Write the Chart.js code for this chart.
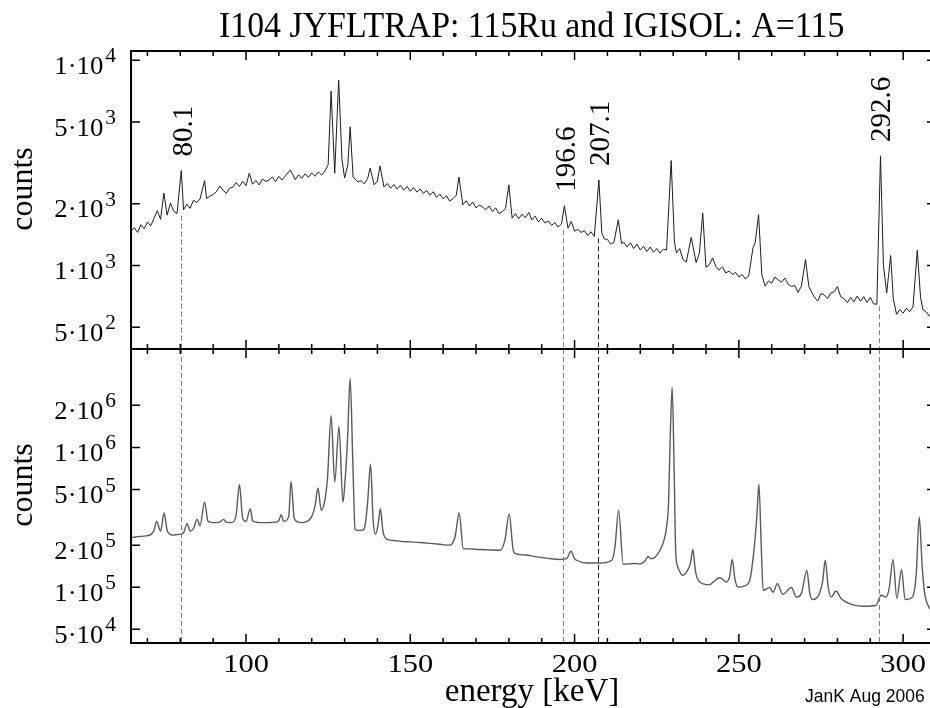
<!DOCTYPE html>
<html>
<head>
<meta charset="utf-8">
<title>I104 JYFLTRAP: 115Ru and IGISOL: A=115</title>
<script src="https://cdn.jsdelivr.net/npm/chart.js@4.4.1/dist/chart.umd.min.js"></script>
<style>
html,body{margin:0;padding:0;background:#fff;overflow:hidden;width:930px;height:708px;}
canvas{position:absolute;left:0;top:0;}
</style>
</head>
<body>
<canvas id="panelArriba" width="936" height="708"></canvas>
<canvas id="panelAbajo" width="936" height="708"></canvas>
<script>

/* ============================= */
/* DATOS */
/* ============================= */

// JYFLTRAP 115Ru (top panel)
const topEnergy = [
65,66,67,68,69,70,71,72,73,74,
75,76,77,78,79,80.3,81,82,83,84,
85,86,87.4,88,89,90,91,92,93,94,
95,96,97,98,99,100,101,102,103,104,
105,106,107,108,109,110,111,112,113.5,115,
116,117,118,119,120,121,122,123,124,125,
125.9,127,128.2,129.2,130,131,131.7,132.6,134,135,
136,137,137.8,139,140,140.8,142,143,144,145,
146,147,148,149,150,151,152,153,154,155,
156,157,158,159,160,161,162,163,164,164.8,
166,167,168,169,170,171,172,173,174,175,
176,177,178,179,180,181,182,183,184,185,
186.1,187,188,189,190,191,192,193,194,195,
196,196.9,198,199,200,201,202,203,204,205,
206,207.4,208.3,209,210,211,212,213.3,214.3,215,
216,217,218,219,220,221,222,223,224,225,
226,227,228,229.4,230.4,231,232,233,234,235.5,
237,238,239,240,241,242,243,244,245,246,
247,248,249,250,251,252,253,254.3,255,256,
257,258,259,260,261,262,263,264,265,266,
267,268,269,270.3,271.3,272,273,274,275,276,
277,278,279,280,281,282,283,284,285,286,
287,288,289,290,291,292,293.1,294,295,296.2,
297,298,299,300,301,302,303,304.3,305.3,306,
307,308,309,310
];

const topCounts = [
1470,1530,1450,1580,1510,1630,1560,1700,1850,1680,
2254,1760,2013,1840,1790,2904,1870,1990,1900,2080,
2030,2110,2594,2120,2180,2220,2290,2440,2330,2250,
2380,2410,2540,2430,2570,2450,2818,2490,2600,2470,
2640,2570,2610,2700,2560,2720,2610,2740,2924,2620,
2770,2660,2800,2690,2830,2720,2860,2760,2880,3100,
7076,2818,8000,3300,2669,3100,4742,2700,2560,2590,
2500,2650,2981,2474,2580,3058,2410,2510,2380,2480,
2360,2460,2330,2430,2300,2400,2280,2360,2250,2320,
2200,2290,2150,2230,2110,2190,2060,2120,2200,2699,
1980,2070,1950,2040,1910,1970,1930,1870,1950,1830,
1910,1790,1830,1900,2474,1700,1790,1690,1780,1710,
1815,1670,1740,1630,1700,1610,1650,1570,1620,1540,
1590,1955,1520,1641,1470,1500,1450,1480,1400,1460,
1387,2612,1441,1350,1340,1270,1300,1672,1280,1300,
1230,1290,1210,1270,1190,1240,1170,1230,1160,1210,
1150,1200,1190,3247,1300,1150,1210,1069,1040,1371,
1033,1150,1803,980,1010,1089,990,950,985,920,
940,905,925,880,905,860,890,1219,1300,1770,
900,795,840,820,880,850,830,870,810,790,
800,740,790,1069,790,750,700,671,730,720,
690,735,745,790,705,690,659,700,665,710,
670,705,660,700,650,648,3420,1000,736,1119,
690,578,610,585,620,595,630,1186,700,610,
595,567,575,550
];

// IGISOL A=115 (bottom panel)
const bottomEnergy = [
65,66,67,68,69,70,71,72,72.8,74,
75.1,76,77,78,79,80,81,82.1,83,84,
85.1,86,87.4,88.4,89,90,91,92,93.2,94,
95,96,97,98,99,100,101.3,102,103,104,
105,106,107,108,109,110,110.7,111.5,113,113.7,
114.7,116,117,118,119,120,121,121.9,122.9,124,
124.8,125.9,127,128.3,129.5,130.2,130.9,131.7,132.5,133.2,
134,135,136,137,137.9,138.7,139.4,140.2,140.9,141.7,
143,145,147,150,153,156,159,162,163.6,164.9,
166.1,168,171,174,177.3,178.8,180.1,181.3,182,185,
188.5,192,195.6,197.6,198.9,200,200.6,203.7,207.8,211.3,
212.3,213.4,214.8,218.1,219.9,221.5,222.4,223.2,224.5,226,
227.3,228,228.6,229.1,229.7,230.3,230.8,231.5,232.9,234.4,
235.3,236,236.8,238.1,241.1,242,244.2,246.2,247.2,248,
248.8,249.7,251.5,253.3,254.8,255.5,256.1,256.8,257.4,259.4,
260.4,261.7,263.4,266,267.5,269,270.7,271.6,272.5,274.5,
275.5,276.3,277.2,278.1,279.6,281.1,283.6,287.7,291.7,293.3,
294.8,295.8,296.9,298.1,299.5,300.6,302.8,304,304.9,305.8,
306.5,307.8,309,310
];

const bottomCounts = [
226000,228000,230000,231000,232000,234000,238000,255000,296000,252000,
339800,255000,239000,236000,238000,240000,245000,285000,252000,262000,
306000,275000,406000,298000,292000,290000,290000,292000,306000,292000,
290000,292000,330000,541000,310000,295000,365000,300000,292000,290000,
290000,290000,290000,291000,292000,300000,330000,296000,320000,571000,
310000,292000,290000,292000,300000,320000,380000,512000,355000,420000,
600000,1690000,565000,1410000,406000,600000,1150000,3130000,800000,260000,
255000,255000,262000,400000,757000,300000,239000,280000,365000,250000,
220000,216000,213000,211000,209000,206000,203000,200000,228000,340000,
189000,188000,186000,185000,184000,217000,334000,185000,174000,170000,
165000,161000,158000,160000,181000,160000,156000,149000,149000,156000,
194000,355000,146000,148000,147000,155000,166000,160000,164000,184000,
220000,270000,400000,1150000,2700000,700000,175000,138000,122000,132000,
150000,186000,130000,109000,104000,108000,117000,109000,120000,158000,
115000,100500,102000,112000,205000,330000,545000,200000,95000,99600,
92000,106000,89000,99600,85000,90000,132000,90000,81700,90000,
110000,156000,100000,85000,94000,83000,76400,73100,74000,87700,
85000,100000,158000,83000,134000,81700,85000,126000,318000,140000,
92400,72300,68000,66000
];

// marked lines
const markerEnergies = [80.1, 196.6, 207.1, 292.6];
const markerLabels = ["80.1", "196.6", "207.1", "292.6"];

// axes
const xMin = 65;
const xMax = 310;
const xTickValues = [70,80,90,100,110,120,130,140,150,160,170,180,190,200,210,220,230,240,250,260,270,280,290,300];
const xLabelValues = [100,150,200,250,300];
const xTickLabels = ["100","150","200","250","300"];

const topMin = 392;
const topMax = 11100;
const topTickValues = [10000,5000,2000,1000,500];
const topTickLabels = ["1·10^4","5·10^3","2·10^3","1·10^3","5·10^2"];

const bottomMin = 39940;
const bottomMax = 5055000;
const bottomTickValues = [2000000,1000000,500000,200000,100000,50000];
const bottomTickLabels = ["2·10^6","1·10^6","5·10^5","2·10^5","1·10^5","5·10^4"];

const title = "I104 JYFLTRAP: 115Ru and IGISOL: A=115";

// estilos de las lineas marcadas
const markerColors = ["#808080", "#808080", "#222222", "#808080"];

const SERIF = '"Liberation Serif", "Times New Roman", serif';


/* ============================= */
/* AYUDAS */
/* ============================= */

function valorLocal(energias, cuentas, centro, ancho, buscarMax){

let mejor = buscarMax ? 0 : Infinity;

energias.forEach((e,i)=>{
if(Math.abs(e-centro) <= ancho){
if(buscarMax) mejor = Math.max(mejor, cuentas[i]);
else mejor = Math.min(mejor, cuentas[i]);
}
});

return mejor;

}

function dibujarPotencia(ctx, texto, xDerecha, y){

const partes = texto.split("^");
const escala = 1.07;

ctx.font = "25px " + SERIF;
const anchoBase = ctx.measureText(partes[0]).width * escala;

ctx.font = "20px " + SERIF;
const anchoExp = ctx.measureText(partes[1]).width * escala;

const x0 = xDerecha - anchoBase - anchoExp - 2;

ctx.save();
ctx.translate(x0, y + 13.5);
ctx.scale(escala, 1);
ctx.font = "25px " + SERIF;
ctx.fillText(partes[0], 0, 0);
ctx.restore();

ctx.save();
ctx.translate(x0 + anchoBase + 2, y + 2);
ctx.scale(escala, 1);
ctx.font = "20px " + SERIF;
ctx.fillText(partes[1], 0, 0);
ctx.restore();

}


/* ============================= */
/* PLUGIN MARCO Y TEXTOS */
/* ============================= */

const marcoPlugin = {

id: "marco",

afterDraw(chart, args, opts){

const ctx = chart.ctx;
const area = chart.chartArea;
const sx = chart.scales.x;
const sy = chart.scales.y;

ctx.save();

/* lineas discontinuas */

markerEnergies.forEach((e,i)=>{

const px = Math.round(sx.getPixelForValue(e)) + 0.5;
let y0 = area.top;

if(opts.panel === "top"){
const base = valorLocal(topEnergy, topCounts, e, 1.5, false);
y0 = sy.getPixelForValue(base) + 2;
}

ctx.setLineDash([5,3]);
ctx.strokeStyle = markerColors[i];
ctx.lineWidth = 1;
ctx.beginPath();
ctx.moveTo(px, y0);
ctx.lineTo(px, area.bottom);
ctx.stroke();

});

ctx.setLineDash([]);

/* marco */

ctx.strokeStyle = "#000";
ctx.lineWidth = 2;
ctx.strokeRect(area.left, area.top, area.right - area.left, area.bottom - area.top);

/* ticks eje x */

ctx.lineWidth = 1.5;

xTickValues.forEach(v=>{

const px = sx.getPixelForValue(v);
const largo = xLabelValues.includes(v) ? 9 : 5;

ctx.beginPath();
ctx.moveTo(px, area.top);
ctx.lineTo(px, area.top + largo);
ctx.moveTo(px, area.bottom);
ctx.lineTo(px, area.bottom - largo);
ctx.stroke();

});

/* ticks eje y + etiquetas */

ctx.fillStyle = "#000";
ctx.textAlign = "left";
ctx.textBaseline = "alphabetic";

opts.tickValues.forEach((v,i)=>{

const py = sy.getPixelForValue(v);

ctx.beginPath();
ctx.moveTo(area.left, py);
ctx.lineTo(area.left + 9, py);
ctx.moveTo(area.right, py);
ctx.lineTo(area.right - 9, py);
ctx.stroke();

dibujarPotencia(ctx, opts.tickLabels[i], 116, py);

});

/* titulo eje y */

ctx.save();
ctx.translate(32, opts.countsY);
ctx.rotate(-Math.PI/2);
ctx.font = "32px " + SERIF;
ctx.textAlign = "center";
ctx.fillText("counts", 0, 0);
ctx.restore();

if(opts.panel === "top"){

/* titulo */

ctx.save();
ctx.translate(531.7, 36.7);
ctx.scale(0.94, 1);
ctx.font = "36px " + SERIF;
ctx.textAlign = "center";
ctx.fillText(title, 0, 0);
ctx.restore();

/* etiquetas de picos */

markerEnergies.forEach((e,i)=>{

const px = sx.getPixelForValue(e);
const pico = valorLocal(topEnergy, topCounts, e, 1, true);
const yInicio = sy.getPixelForValue(pico) - 14;

ctx.save();
ctx.translate(px + 11.5, yInicio);
ctx.rotate(-Math.PI/2);
ctx.font = "29px " + SERIF;
ctx.textAlign = "left";
ctx.fillText(markerLabels[i], 0, 0);
ctx.restore();

});

} else {

/* etiquetas eje x */

xLabelValues.forEach((v,i)=>{

const px = sx.getPixelForValue(v);

ctx.save();
ctx.translate(px, 671.5);
ctx.scale(1.22, 1);
ctx.font = "25px " + SERIF;
ctx.textAlign = "center";
ctx.fillText(xTickLabels[i], 0, 0);
ctx.restore();

});

ctx.font = "33px " + SERIF;
ctx.textAlign = "center";
ctx.fillText("energy [keV]", 532, 701);

ctx.font = '17.5px "Liberation Sans", Arial, sans-serif';
ctx.textAlign = "left";
ctx.fillText("JanK Aug 2006", 805, 701.5);

}

ctx.restore();

}

};


/* ============================= */
/* CREAR PANELES */
/* ============================= */

function crearPanel(id, energias, cuentas, yMin, yMax, padTop, padBottom, color, grosor, suave, marco){

const ctx = document.getElementById(id);

return new Chart(ctx, {

type: "line",

data: {
datasets: [{
data: energias.map((e,i)=>({x:e, y:cuentas[i]})),
borderColor: color,
borderWidth: grosor,
pointRadius: 0,
tension: 0,
cubicInterpolationMode: suave ? "monotone" : "default",
fill: false
}]
},

options: {

responsive: false,
animation: false,
devicePixelRatio: 1,
events: [],

layout: {
padding: {left:131, right:0, top:padTop, bottom:padBottom}
},

plugins: {
legend: {display:false},
tooltip: {enabled:false},
marco: marco
},

scales: {
x: {type:"linear", display:false, min:xMin, max:xMax, bounds:"data"},
y: {type:"logarithmic", display:false, min:yMin, max:yMax, bounds:"data"}
}

},

plugins: [marcoPlugin]

});

}

crearPanel("panelArriba", topEnergy, topCounts, topMin, topMax, 51, 359, "#1c1c1c", 1, false, {
panel: "top",
tickValues: topTickValues,
tickLabels: topTickLabels,
countsY: 189
});

crearPanel("panelAbajo", bottomEnergy, bottomCounts, bottomMin, bottomMax, 349, 65, "#5a5a5a", 1.4, true, {
panel: "bottom",
tickValues: bottomTickValues,
tickLabels: bottomTickLabels,
countsY: 485
});

</script>
</body>
</html>
